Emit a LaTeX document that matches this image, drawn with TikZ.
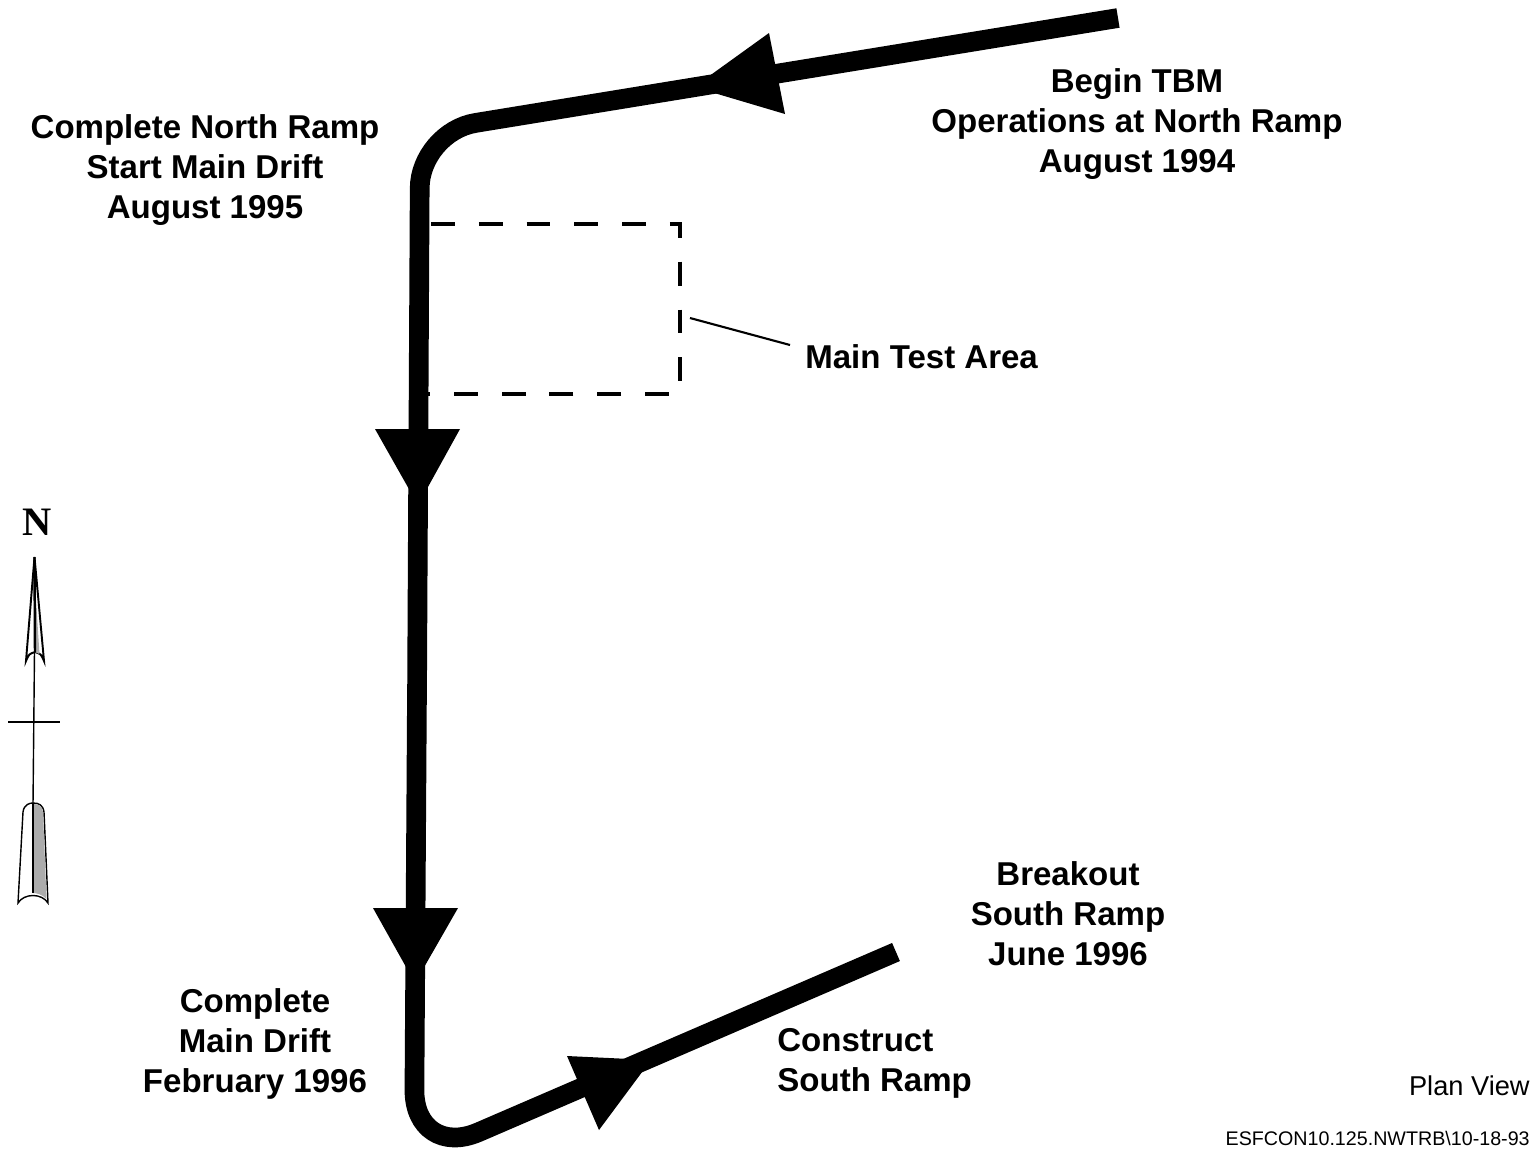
\documentclass[tikz,border=0pt]{standalone}
\usepackage{fontspec}
\setmainfont{Liberation Sans}
\newfontfamily\serifN{Liberation Serif}
\usetikzlibrary{calc}
\begin{document}
\begin{tikzpicture}[x=0.02cm,y=-0.02cm,
  lbl/.style={font=\fontsize{18.8}{22.7}\selectfont\bfseries, align=center, inner sep=0pt},
  route/.style={line width=11.2pt},
  headfill/.style={fill=black, draw=none},
  dashbox/.style={line width=2.3pt, dash pattern=on 13.6pt off 13.6pt},
  leader/.style={line width=1.2pt},
  thinline/.style={line width=0.8pt},
  hatch/.style={fill=gray!65, draw=none},
]
\useasboundingbox (0,0) rectangle (1535,1157);

% dashed test area box
\draw[dashbox] (431,224) -- (680,224) -- (680,394) -- (420,394);

% route
\coordinate (start) at (1118,18);
\coordinate (c1) at (420,132);
\coordinate (c2) at (414,1160);
\coordinate (end) at (896,952);
\draw[route, rounded corners=32pt] (start) -- (c1) -- (417,700);
\draw[route, rounded corners=40pt] (417,690) -- (c2) -- (end);

% arrowheads
\fill[headfill] (694,87) -- (769,33) -- (785,114) -- cycle;
\fill[headfill] (375,429) -- (460,429) -- (418,505) -- cycle;
\fill[headfill] (373,908) -- (458,908) -- (415,983) -- cycle;
\fill[headfill] (651,1060) -- (567,1056) -- (599,1130) -- cycle;

% labels
\node[lbl] (tbm) at (1137,124) {Begin TBM\\Operations at North Ramp\\August 1994};
\node[lbl] (cnr) at (205,170) {Complete North Ramp\\Start Main Drift\\August 1995};
\node[lbl, anchor=west] (mta) at (805,357) {Main Test Area};
\node[lbl] (bo) at (1068,914) {Breakout\\South Ramp\\June 1996};
\node[lbl] (cmd) at (255,1044) {Complete\\Main Drift\\February 1996};
\node[lbl, align=left, anchor=west] (csr) at (777,1063) {Construct\\South Ramp};
\node[font=\fontsize{15.5}{18}\selectfont, anchor=east, inner sep=0pt] (pv) at (1530,1086) {Plan View};
\node[font=\fontsize{11.2}{13}\selectfont, anchor=east, inner sep=0pt] (ref) at (1530,1138) {ESFCON10.125.NWTRB\textbackslash 10-18-93};

% leader
\coordinate (ls) at (690,318);
\coordinate (le) at (790,345);
\draw[leader] (ls) -- (le);

% north arrow
\node[font=\serifN\bfseries\fontsize{23}{26}\selectfont, inner sep=0pt] (N) at (37,522) {N};
\draw[thinline] (35,600) -- (33,805);
\draw[line width=0.6pt] (8,722) -- (60,722);
% upper head
\filldraw[fill=white, line width=1.1pt] (34.5,557) -- (26,661) .. controls (29,654) .. (35,652) .. controls (41,654) .. (44,661) -- cycle;
\fill[hatch] (35,585) -- (35,652) -- (39.5,654) -- cycle;
\draw[line width=1.4pt] (34.5,557) -- (35,652);
% lower feather
\filldraw[fill=white, thinline] (18,903) -- (23,812) .. controls (24,804) and (30,803) .. (33,803) .. controls (39,803) and (43,805) .. (44,812) -- (48,903) .. controls (42,893) and (24,893) .. (18,903) -- cycle;
\fill[hatch] (33,804) .. controls (39,804) and (42,806) .. (43,812) -- (46.5,899) .. controls (42,894) and (36,893) .. (33,893) -- cycle;
\draw[thinline] (33,803) -- (33,893);
\end{tikzpicture}
\end{document}
